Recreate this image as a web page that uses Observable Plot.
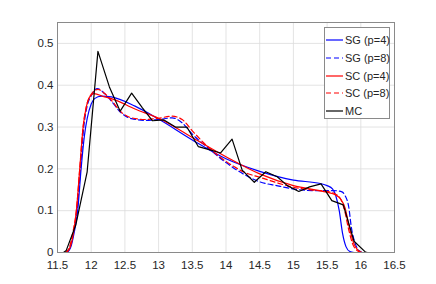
<!DOCTYPE html>
<html>
<head>
<meta charset="utf-8">
<script src="https://cdn.jsdelivr.net/npm/d3@7"></script>
<script src="https://cdn.jsdelivr.net/npm/@observablehq/plot@0.6"></script>
<style>
  html, body { margin: 0; padding: 0; background: #fff; }
  #wrap { position: relative; width: 436px; height: 284px; font-family: "Liberation Sans", Arial, Helvetica, sans-serif; }
  #legend { position: absolute; left: 324px; top: 27px; width: 66px; height: 92px; background: #fff; border: 1px solid #8a8a8a; box-sizing: border-box; }
  .row { position: absolute; left: 0; height: 16px; display: flex; align-items: center; font-size: 11px; color: #262626; white-space: nowrap; }
  .row svg { margin-left: 1px; margin-right: 2px; }
</style>
</head>
<body>
<div id="wrap"></div>
<script>
// ---- data ----
const xTicks = [11.5, 12, 12.5, 13, 13.5, 14, 14.5, 15, 15.5, 16, 16.5];
const yTicks = [0, 0.1, 0.2, 0.3, 0.4, 0.5];

const seriesNames = ["SG (p=4)", "SG (p=8)", "SC (p=4)", "SC (p=8)", "MC"];

// SG (p=4)
const sg4 = [[11.5,0],[11.63,0],[11.69,0.01],[11.75,0.05],[11.8,0.1],[11.85,0.2],[11.9,0.28],[11.94,0.32],[12.0,0.355],[12.05,0.368],[12.15,0.374],[12.3,0.372],[12.65,0.35],[13.0,0.319],[13.5,0.269],[14.0,0.224],[14.5,0.194],[15.0,0.173],[15.4,0.165],[15.5,0.16],[15.58,0.152],[15.63,0.135],[15.68,0.1],[15.73,0.045],[15.78,0.014],[15.84,0.002],[15.9,0]];
// SG (p=8)
const sg8 = [[11.5,0],[11.62,0],[11.68,0.01],[11.74,0.05],[11.79,0.1],[11.84,0.2],[11.89,0.3],[11.94,0.35],[12.0,0.375],[12.09,0.392],[12.2,0.38],[12.3,0.362],[12.45,0.333],[12.6,0.32],[12.8,0.316],[13.0,0.318],[13.2,0.322],[13.35,0.31],[13.5,0.283],[13.75,0.248],[14.0,0.215],[14.3,0.184],[14.5,0.169],[14.75,0.16],[15.0,0.152],[15.3,0.148],[15.6,0.148],[15.72,0.145],[15.77,0.135],[15.82,0.11],[15.86,0.06],[15.92,0.02],[15.97,0.005],[16.02,0]];
// SC (p=4)
const sc4 = [[11.5,0],[11.62,0],[11.68,0.01],[11.74,0.05],[11.78,0.1],[11.83,0.2],[11.88,0.3],[11.93,0.35],[11.97,0.37],[12.04,0.38],[12.2,0.372],[12.3,0.368],[12.65,0.343],[13.0,0.321],[13.5,0.275],[14.0,0.229],[14.5,0.188],[15.0,0.16],[15.5,0.144],[15.62,0.138],[15.7,0.128],[15.77,0.105],[15.83,0.06],[15.9,0.02],[15.96,0.005],[16.02,0]];
// SC (p=8)
const sc8 = [[11.5,0],[11.61,0],[11.67,0.01],[11.73,0.05],[11.78,0.1],[11.83,0.2],[11.88,0.3],[11.93,0.35],[12.0,0.378],[12.1,0.39],[12.2,0.38],[12.3,0.364],[12.45,0.335],[12.6,0.322],[12.8,0.318],[13.0,0.321],[13.2,0.326],[13.35,0.318],[13.5,0.291],[13.75,0.25],[14.0,0.218],[14.3,0.19],[14.5,0.18],[14.75,0.167],[15.0,0.156],[15.3,0.149],[15.5,0.146],[15.62,0.14],[15.7,0.128],[15.76,0.1],[15.82,0.055],[15.88,0.02],[15.95,0.004],[16.0,0]];
// MC
const mc = [[11.5,0],[11.59,0],[11.63,0.005],[11.77,0.065],[11.94,0.193],[12.1,0.481],[12.27,0.396],[12.43,0.338],[12.6,0.381],[12.76,0.346],[12.91,0.315],[13.08,0.317],[13.25,0.3],[13.42,0.3],[13.59,0.253],[13.75,0.246],[13.92,0.238],[14.09,0.271],[14.24,0.197],[14.42,0.168],[14.59,0.193],[14.76,0.181],[14.91,0.16],[15.08,0.146],[15.24,0.157],[15.41,0.164],[15.57,0.124],[15.74,0.114],[15.9,0.027],[16.07,0.001],[16.1,0]];

const colors = ["#0000ff", "#0000ff", "#ff0000", "#ff0000", "#000000"];
const dashes = [null, "5,3", null, "5,3", null];
const allSeries = [sg4, sg8, sc4, sc8, mc];

// ---- chart ----
const font = '"Liberation Sans", Arial, Helvetica, sans-serif';
const lineMarks = allSeries.map((s, i) => Plot.line(s, {
  x: d => d[0], y: d => d[1],
  stroke: colors[i], strokeWidth: 1.2,
  strokeDasharray: dashes[i],
  curve: i === 4 ? "linear" : "monotone-x"
}));

const chart = Plot.plot({
  width: 436, height: 284,
  marginLeft: 57, marginRight: 42, marginTop: 22, marginBottom: 32,
  style: { fontFamily: font, fontSize: "11px", color: "#262626", background: "#fff" },
  x: { domain: [11.5, 16.5], ticks: xTicks, tickFormat: d => String(d) },
  y: { domain: [0, 0.55], ticks: yTicks, tickFormat: d => String(d) },
  marks: [
    Plot.gridX(xTicks, { stroke: "#dcdcdc", strokeOpacity: 1, strokeWidth: 0.8 }),
    Plot.gridY(yTicks, { stroke: "#dcdcdc", strokeOpacity: 1, strokeWidth: 0.8 }),
    ...lineMarks,
    Plot.frame({ stroke: "#8a8a8a", strokeWidth: 1 }),
    Plot.axisX(xTicks, { tickSize: 0, tickPadding: 8, fontSize: 11.5, fill: "#262626", label: null, tickFormat: d => String(d) }),
    Plot.axisY(yTicks, { tickSize: 0, tickPadding: 4, fontSize: 11.5, fill: "#262626", label: null, tickFormat: d => String(d) })
  ]
});

const wrap = document.getElementById("wrap");
wrap.appendChild(chart);

// ---- legend ----
const legend = document.createElement("div");
legend.id = "legend";
seriesNames.forEach((name, i) => {
  const row = document.createElement("div");
  row.className = "row";
  row.style.top = (4 + i * 17.8) + "px";
  const ns = "http://www.w3.org/2000/svg";
  const sw = document.createElementNS(ns, "svg");
  sw.setAttribute("width", 17); sw.setAttribute("height", 10);
  const ln = document.createElementNS(ns, "line");
  ln.setAttribute("x1", 0); ln.setAttribute("x2", 17);
  ln.setAttribute("y1", 5); ln.setAttribute("y2", 5);
  ln.setAttribute("stroke", colors[i]); ln.setAttribute("stroke-width", 1.2);
  if (dashes[i]) ln.setAttribute("stroke-dasharray", dashes[i]);
  sw.appendChild(ln);
  const t = document.createElement("span");
  t.textContent = name;
  row.appendChild(sw); row.appendChild(t);
  legend.appendChild(row);
});
wrap.appendChild(legend);
</script>
</body>
</html>
